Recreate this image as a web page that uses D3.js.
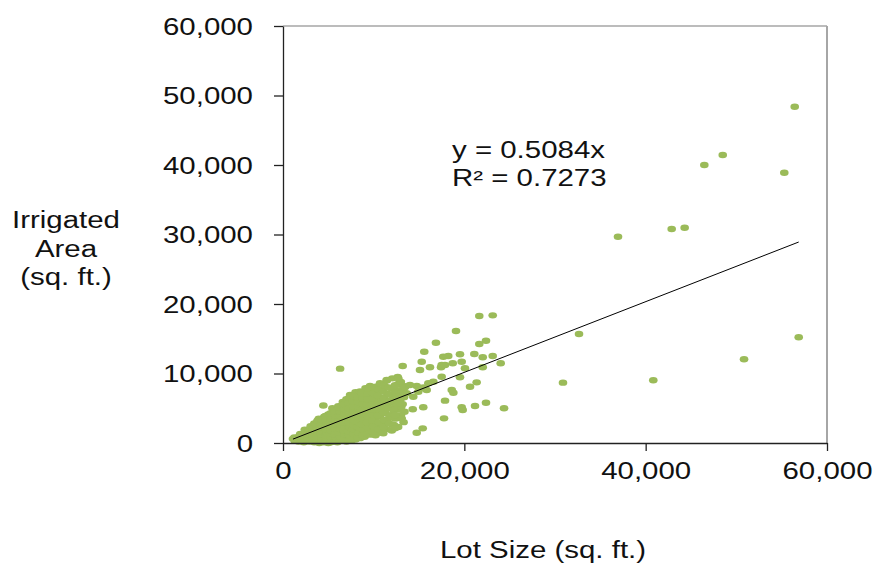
<!DOCTYPE html>
<html>
<head>
<meta charset="utf-8">
<script src="https://cdn.jsdelivr.net/npm/d3@7"></script>
<style>
  html, body { margin: 0; padding: 0; background: #fff; }
  svg { display: block; font-family: Arial, "Liberation Sans", sans-serif; }
</style>
</head>
<body>
<svg id="chart" width="874" height="563"></svg>
<script>
// ---- data (Lot Size, Irrigated Area) in sq. ft. ----
const samples = [
  [1100,600],[1300,300],[1250,800],
  [1700,200],[1850,600],[1800,1000],[1900,1300],
  [2300,100],[2450,500],[2350,900],[2500,1400],[2400,1900],
  [2900,200],[3050,600],[2950,1000],[3100,1500],[3000,2000],[3050,2400],
  [3450,100],[3550,400],[3400,800],[3600,1200],[3500,1700],[3550,2300],[3450,2800],
  [4000,0],[4100,300],[3950,700],[4050,1100],[3900,1500],[4100,1900],[4000,2400],[4050,3000],[3950,3500],
  [4500,100],[4600,500],[4400,900],[4550,1300],[4450,1800],[4600,2200],[4500,2700],[4400,3200],[4550,3800],[4450,5400],
  [5000,0],[5100,400],[4900,800],[5050,1200],[4950,1600],[5100,2100],[5000,2500],[4900,3000],[5050,3500],[5000,4100],
  [5500,200],[5600,600],[5400,1000],[5550,1400],[5450,1900],[5600,2300],[5500,2800],[5400,3300],[5550,3800],[5500,4400],[5450,5000],
  [6000,100],[6100,500],[5900,900],[6050,1300],[5950,1700],[6100,2200],[6000,2600],[5900,3100],[6050,3600],[6000,4200],[5950,4800],[6100,5300],
  [6300,10700],
  [6500,300],[6600,700],[6400,1100],[6550,1600],[6450,2000],[6600,2500],[6500,3000],[6400,3500],[6550,4000],[6500,4600],[6450,5300],[6600,5900],
  [7000,200],[7100,600],[6900,1000],[7050,1500],[6950,1900],[7100,2400],[7000,2900],[6900,3400],[7050,3900],[7000,4500],[6950,5100],[7100,5700],[7000,6300],
  [7500,300],[7600,800],[7400,1300],[7550,1800],[7450,2300],[7600,2800],[7500,3300],[7400,3800],[7550,4400],[7500,5000],[7450,5600],[7600,6200],[7400,6900],
  [8000,500],[8100,1000],[7900,1600],[8050,2100],[7950,2700],[8100,3200],[8000,3800],[7900,4300],[8050,4900],[8000,5500],[7950,6100],[8100,6800],[8000,7300],
  [8500,700],[8600,1300],[8400,1900],[8550,2500],[8450,3100],[8600,3700],[8500,4300],[8400,4900],[8550,5500],[8500,6200],[8450,7000],[8500,7400],
  [9000,900],[9100,1600],[8900,2300],[9050,3000],[8950,3700],[9100,4400],[9000,5100],[8900,5800],[9050,6500],[9000,7300],[9100,7900],
  [9600,1200],[9700,2000],[9500,2800],[9650,3600],[9550,4400],[9700,5200],[9600,6000],[9500,6800],[9650,7600],[9600,8200],
  [10200,1100],[10300,2500],[10100,3300],[10250,4200],[10150,5000],[10300,5800],[10200,6600],[10100,7300],[10250,8100],
  [10800,1500],[10900,2900],[10700,3800],[10850,4700],[10750,5600],[10900,6500],[10800,7400],[10700,8600],
  [11400,2000],[11500,3400],[11300,4300],[11450,5300],[11350,6200],[11500,7100],[11400,8000],[11450,9000],
  [12000,1800],[12100,2600],[11900,4000],[12050,5000],[11950,5900],[12100,6800],[12000,7800],[12050,9300],
  [12700,2300],[12800,3600],[12600,4800],[12750,5800],[12650,6700],[12800,7600],[12700,8500],[12650,9500],
  [13300,3000],[13400,4500],[13200,5600],[13350,6600],[13250,7500],[13300,8200],
  [2100,400],[2150,1100],[2700,300],[2750,800],[2650,1300],[2800,1700],
  [3250,300],[3300,1000],[3200,1500],[3300,2100],
  [3750,200],[3800,600],[3700,1000],[3800,1700],[3750,2100],[3700,2600],[3800,3200],
  [4250,200],[4300,800],[4200,1300],[4300,1700],[4250,2200],[4200,2700],[4300,3300],
  [4750,300],[4800,700],[4700,1100],[4800,1500],[4750,2000],[4700,2400],[4800,2900],[4750,3300],[4700,3900],
  [5250,100],[5300,800],[5200,1400],[5300,1800],[5250,2400],[5200,3000],[5300,3600],[5250,4300],
  [5750,400],[5800,800],[5700,1200],[5800,1700],[5750,2100],[5700,2700],[5800,3300],[5750,4000],[5700,4600],
  [6250,300],[6300,900],[6200,1500],[6300,2000],[6250,2700],[6200,3300],[6300,3900],[6250,4500],[6200,5100],
  [6750,500],[6800,1200],[6700,1800],[6800,2300],[6750,2900],[6700,3600],[6800,4300],[6750,4900],[6700,5600],
  [7250,400],[7300,1100],[7200,1700],[7300,2300],[7250,3000],[7200,3700],[7300,4300],[7250,5000],[7200,5800],[7300,6500],
  [7750,600],[7800,1300],[7700,2000],[7800,2600],[7750,3300],[7700,4000],[7800,4600],[7750,5300],[7700,6000],[7800,6700],
  [8250,800],[8300,1500],[8200,2300],[8300,3000],[8250,3700],[8200,4500],[8300,5200],[8250,5900],[8200,6600],
  [8750,1100],[8800,1900],[8700,2700],[8800,3400],[8750,4100],[8700,4800],[8800,5600],[8750,6400],[8700,7200],
  [9300,1300],[9350,2200],[9250,3000],[9350,3900],[9300,4700],[9250,5500],[9350,6300],[9300,7100],[9350,7800],
  [9900,1600],[9950,2400],[9850,3200],[9950,4000],[9900,4800],[9850,5600],[9950,6400],[9900,7200],[9950,8000],
  [10500,2000],[10550,3000],[10450,4000],[10550,4900],[10500,5800],[10450,6800],[10550,7700],
  [11100,2300],[11150,3300],[11050,4400],[11150,5400],[11100,6400],[11050,7400],[11150,8300],
  [11700,2800],[11750,3900],[11650,5000],[11750,6000],[11700,7000],[11650,8000],
  [12350,3500],[12400,5200],[12300,6300],[12400,7300],[12350,8300],
  [13000,4000],[13050,5200],[12950,6200],[13050,7200],[13000,8800],
  [11060,1400],[12240,2590],[12350,2110],[13090,3550],[12170,4750],[12350,4030],[12900,5710],[12540,6660],
  [13640,7150],[13450,8010],[14000,8350],[12720,9300],[11440,9060],[14370,6660],[14920,7380],[15480,8010],[15850,7630],
  [13200,11080],[14310,4850],[15470,5140],[14750,1480],[15410,2110],[17760,3550],[17870,6090],
  [19710,5140],[19820,4750],[21180,5320],[22390,5800],[24380,4990],
  [14750,8200],[15580,7870],[16030,8590],[16580,8820],[17500,9540],[19520,9450],[21360,8730],[20630,8100],
  [18610,7630],[18790,7240],
  [15110,10500],[16210,10890],[17430,10890],[17500,11220],[17870,11220],[18720,11470],[19710,11700],
  [20070,10750],[22030,10890],[24010,11470],[15300,11700],[15580,13140],[17680,12420],[18230,12520],
  [19520,12760],[21100,12810],[22030,12330],[23130,12520],[16870,14430],[21650,14240],[22390,14720],
  [19080,16120],[21650,18270],[23130,18370],
  [30880,8680],[32650,15680],[36950,29680],[40840,9020],[42870,30790],[44300,30980],
  [46470,40000],[48500,41440],[50850,12040],[55290,38890],[56440,48390],[56880,15210]
];
const slope = 0.5084;
const equationText = "y = 0.5084x";
const rSquaredText = "R\u00b2 = 0.7273";
const xTicks = [0, 20000, 40000, 60000];
const yTicks = [0, 10000, 20000, 30000, 40000, 50000, 60000];
const xTitle = "Lot Size (sq. ft.)";
const yTitleLines = ["Irrigated", "Area", "(sq. ft.)"];

// ---- layout ----
const svg = d3.select("#chart");
const L = 283, R = 827, T = 26, B = 443;
const SX = 1.28;            // horizontal stretch of the original picture
const FS = 23;
const x = d3.scaleLinear().domain([0, 60000]).range([L, R]);
const y = d3.scaleLinear().domain([0, 60000]).range([B, T]);

function stretchedText(g, tx, ty, str, anchor) {
  return g.append("text")
    .attr("transform", `translate(${tx},${ty}) scale(${SX},1)`)
    .attr("text-anchor", anchor || "start")
    .attr("font-size", FS)
    .attr("fill", "#111")
    .text(str);
}

// plot frame (top & right)
svg.append("line").attr("x1", L).attr("x2", R).attr("y1", T).attr("y2", T)
  .attr("stroke", "#a6a6a6").attr("stroke-width", 1.5);
svg.append("line").attr("x1", R).attr("x2", R).attr("y1", T).attr("y2", B)
  .attr("stroke", "#a6a6a6").attr("stroke-width", 2);

// points
svg.append("g").selectAll("ellipse").data(samples).join("ellipse")
  .attr("cx", d => x(d[0])).attr("cy", d => y(d[1]))
  .attr("rx", 4.3).attr("ry", 3.2)
  .attr("fill", "#9bbb59");

// trend line
const xr = d3.extent(samples, d => d[0]);
svg.append("line")
  .attr("x1", x(xr[0])).attr("y1", y(slope * xr[0]))
  .attr("x2", x(xr[1])).attr("y2", y(slope * xr[1]))
  .attr("stroke", "#000").attr("stroke-width", 1);

// axes
const fmt = d3.format(",");
const gy = svg.append("g").attr("transform", `translate(${L},0)`)
  .call(d3.axisLeft(y).tickValues(yTicks).tickSize(9).tickSizeOuter(0).tickFormat(fmt));
gy.selectAll("text")
  .attr("x", null).attr("dy", "0.35em")
  .attr("transform", `translate(-30,0) scale(${SX},1)`)
  .attr("font-size", FS).attr("fill", "#111")
  .attr("font-family", "Arial, 'Liberation Sans', sans-serif");
const gx = svg.append("g").attr("transform", `translate(0,${B})`)
  .call(d3.axisBottom(x).tickValues(xTicks).tickSize(8).tickSizeOuter(0).tickFormat(fmt));
gx.selectAll("text")
  .attr("y", null).attr("dy", null)
  .attr("transform", `translate(0,36) scale(${SX},1)`)
  .attr("font-size", FS).attr("fill", "#111")
  .attr("font-family", "Arial, 'Liberation Sans', sans-serif");
[gx, gy].forEach(g => {
  g.selectAll("path.domain").attr("stroke", "#222").attr("stroke-width", 1.3);
  g.selectAll(".tick line").attr("stroke", "#222").attr("stroke-width", 1.3);
});

// equation
stretchedText(svg, 452, 158, equationText, "start");
stretchedText(svg, 452, 186, rSquaredText, "start");

// titles
stretchedText(svg, 543, 558, xTitle, "middle");
yTitleLines.forEach((t, i) => stretchedText(svg, 66, 228 + i * 28.5, t, "middle"));
</script>
</body>
</html>
